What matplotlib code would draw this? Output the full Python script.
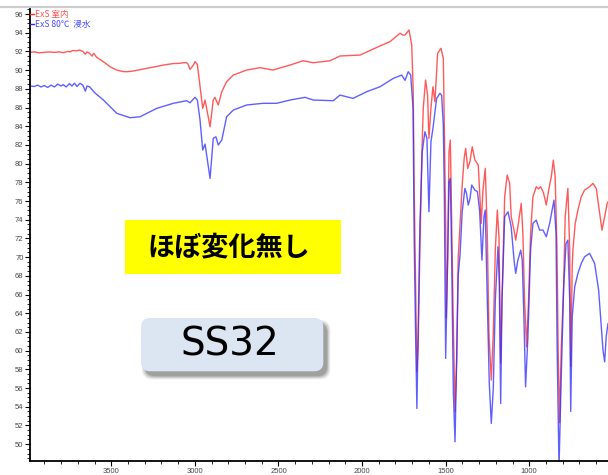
import matplotlib
matplotlib.use('Agg')
from matplotlib import pyplot as plt
from matplotlib.patches import Rectangle, FancyBboxPatch
from matplotlib.lines import Line2D
from matplotlib.transforms import IdentityTransform
from matplotlib.ticker import FixedLocator, MultipleLocator

# IR spectra: wavenumber (cm-1) vs transmittance (%)
red_wn = [3990, 3960, 3930, 3900, 3870, 3840, 3810, 3787, 3760, 3747, 3730, 3710, 3690, 3670,
          3655, 3645, 3630, 3615, 3605, 3587, 3547, 3507, 3467, 3430, 3407, 3370, 3328, 3288,
          3240, 3189, 3130, 3089, 3069, 3049, 3040, 3029, 3010, 2999, 2985, 2969, 2953, 2939,
          2909, 2890, 2880, 2860, 2839, 2810, 2770, 2690, 2610, 2533, 2431, 2353, 2292, 2192,
          2132, 2012, 1893, 1833, 1773, 1755, 1743, 1719, 1703, 1694, 1688, 1679, 1672, 1664,
          1655, 1643, 1634, 1620, 1608, 1600, 1588, 1576, 1564, 1548, 1528, 1514, 1508, 1500,
          1496, 1488, 1480, 1472, 1464, 1454, 1444, 1434, 1425, 1414, 1401, 1389, 1380, 1368,
          1355, 1341, 1325, 1305, 1297, 1287, 1277, 1263, 1251, 1241, 1227, 1215, 1203, 1191,
          1181, 1171, 1163, 1147, 1132, 1117, 1108, 1091, 1081, 1068, 1048, 1038, 1028, 1016,
          1004, 992, 978, 958, 945, 932, 915, 898, 884, 868, 856, 845, 834, 827, 818, 809,
          794, 785, 769, 758, 752, 743, 739, 725, 709, 689, 669, 639, 619, 599, 579, 565,
          549, 534, 525]
red_t = [91.9, 91.95, 91.85, 91.9, 91.95, 91.9, 91.95, 91.86, 92.0, 91.95, 92.1, 92.05, 92.15, 92.0,
         91.7, 91.95, 91.8, 91.5, 91.8, 91.37, 90.9, 90.36, 90.0, 89.85, 89.83, 89.9, 90.05, 90.19,
         90.35, 90.54, 90.7, 90.73, 90.79, 90.8, 90.6, 90.08, 90.5, 90.9, 90.6, 88.22, 85.91, 86.8,
         83.94, 86.8, 87.09, 86.27, 87.69, 88.76, 89.47, 90.01, 90.26, 90.01, 90.54, 91.0, 90.79, 91.0,
         91.51, 91.61, 92.58, 93.04, 93.94, 93.75, 93.75, 94.29, 92.68, 87.69, 76.99, 66.29, 57.74, 60.94,
         69.9, 80.6, 85.91, 88.94, 87.33, 82.7, 85.91, 88.22, 86.62, 91.8, 92.33, 91.26, 84.13, 73.43,
         63.48, 69.9, 81.27, 82.52, 73.43, 62.73, 53.46, 59.17, 69.9, 73.43, 77.71, 80.6, 81.63, 79.49,
         80.2, 81.8, 80.38, 79.85, 77.17, 73.61, 77.17, 79.49, 72.54, 61.88, 56.85, 61.88, 70.75, 75.03,
         72.18, 58.67, 65.41, 76.46, 78.78, 77.89, 74.32, 72.89, 71.82, 73.25, 75.75, 72.54, 65.41, 60.41,
         65.41, 72.54, 76.46, 77.53, 77.3, 77.53, 76.9, 75.57, 77.17, 78.6, 80.38, 78.6, 70.75, 60.06, 52.3, 60.0,
         67.19, 74.32, 77.35, 70.75, 58.3, 69.0, 70.75, 73.61, 75.03, 76.46, 77.17, 77.53, 77.89, 77.35, 74.68, 72.89,
         74.32, 75.75, 76.0]

blue_wn = [3990, 3960, 3940, 3920, 3900, 3880, 3860, 3840, 3820, 3800, 3787, 3770, 3750, 3735,
           3720, 3705, 3687, 3670, 3655, 3645, 3630, 3600, 3547, 3467, 3388, 3328, 3228, 3129,
           3049, 3029, 2999, 2985, 2969, 2953, 2939, 2909, 2890, 2874, 2860, 2839, 2810, 2770,
           2690, 2593, 2511, 2431, 2341, 2292, 2172, 2132, 2054, 1972, 1893, 1813, 1763, 1743,
           1724, 1709, 1695, 1688, 1679, 1672, 1664, 1654, 1640, 1624, 1612, 1600, 1588, 1576,
           1554, 1534, 1524, 1514, 1508, 1500, 1488, 1480, 1472, 1464, 1454, 1444, 1434, 1425,
           1414, 1401, 1385, 1375, 1365, 1355, 1344, 1325, 1310, 1297, 1283, 1271, 1263, 1251,
           1239, 1227, 1215, 1203, 1187, 1179, 1171, 1163, 1147, 1127, 1108, 1091, 1081, 1068,
           1051, 1042, 1032, 1022, 1008, 992, 978, 958, 938, 918, 898, 878, 852, 840, 833, 822,
           809, 794, 780, 769, 758, 752, 743, 728, 709, 689, 669, 639, 609, 585, 569, 559,
           549, 540, 529]
blue_t = [88.3, 88.25, 88.4, 88.2, 88.35, 88.15, 88.4, 88.2, 88.5, 88.3, 88.45, 88.2, 88.55, 88.3,
          88.6, 88.25, 88.59, 88.4, 87.75, 88.3, 88.22, 87.6, 86.8, 85.38, 84.91, 85.01, 85.91, 86.45,
          86.73, 86.51, 87.09, 86.8, 84.66, 81.45, 82.09, 78.42, 82.7, 82.87, 81.99, 82.52, 85.01, 85.73,
          86.27, 86.45, 86.45, 86.8, 87.09, 86.8, 86.73, 87.33, 86.98, 87.69, 88.22, 89.12, 89.47, 88.9,
          89.83, 89.47, 85.91, 71.64, 60.94, 53.82, 62.73, 73.43, 81.27, 83.41, 82.7, 74.85, 82.34, 83.77,
          86.98, 87.52, 87.3, 84.13, 76.99, 59.17, 69.87, 78.06, 78.42, 69.9, 55.6, 50.25, 59.17, 68.08,
          70.22, 74.85, 77.35, 76.8, 75.57, 76.2, 77.71, 77.17, 77.0, 75.0, 69.68, 74.32, 75.03, 65.41,
          56.5, 52.22, 56.0, 65.41, 71.11, 67.19, 54.35, 65.41, 74.32, 74.85, 73.25, 69.68, 68.26, 69.68,
          70.75, 69.68, 63.62, 56.13, 61.48, 70.75, 73.61, 73.96, 72.89, 72.9, 72.18, 73.61, 76.1, 72.54, 60.06, 47.5,
          57.0, 66.83, 71.47, 71.82, 65.41, 53.5, 63.62, 66.83, 68.26, 69.33, 70.04, 70.4, 69.33, 66.48, 62.55, 60.06,
          58.8, 61.48, 62.9]

legend_labels = ['ExS 室内', 'ExS 80℃  浸水']
legend_colors = ['#ff3030', '#2a2aff']
x_ticks = [3500, 3000, 2500, 2000, 1500, 1000]
y_ticks = list(range(50, 97, 2))
note_text = 'ほぼ変化無し'
sample_name = 'SS32'

W, H = 608, 475
fig = plt.figure(figsize=(W / 100, H / 100), dpi=100)
ax = fig.add_axes([30 / W, 14 / H, 578 / W, 454 / H])

ax.plot(red_wn, red_t, color=legend_colors[0], lw=1.0, alpha=0.8)
ax.plot(blue_wn, blue_t, color=legend_colors[1], lw=1.0, alpha=0.75)

ax.set_xlim(3986, 529)
ax.set_ylim(48.2, 96.75)
ax.spines['top'].set_visible(False)
ax.spines['right'].set_visible(False)
for s in ('left', 'bottom'):
    ax.spines[s].set_linewidth(1.3)

ax.xaxis.set_major_locator(FixedLocator(x_ticks))
ax.xaxis.set_minor_locator(MultipleLocator(100))
ax.yaxis.set_major_locator(FixedLocator(y_ticks))
ax.yaxis.set_minor_locator(MultipleLocator(0.5))
ax.tick_params(which='major', length=3.5, width=0.8, labelsize=5.5, labelcolor='#444444', pad=1.2)
ax.tick_params(which='minor', length=2.2, width=0.6)
for lab in ax.get_xticklabels() + ax.get_yticklabels():
    lab.set_family('Liberation Sans')

# thin grey border along the top
pix = IdentityTransform()
fig.add_artist(Line2D([0, W], [H - 7, H - 7], transform=pix, color='#cccccc', lw=1.6))

# legend entries in the upper left corner
for i, (label, color) in enumerate(zip(legend_labels, legend_colors)):
    y = H - 14 - i * 10
    fig.add_artist(Line2D([30, 34], [y, y], transform=pix, color=color, lw=1.0))
    fig.text(35, y, label, transform=pix, color=color, fontsize=6.2, va='center', ha='left',
             family=['Noto Sans CJK JP', 'DejaVu Sans'], alpha=0.85)

# yellow note box
fig.add_artist(Rectangle((125, H - 273.7), 216, 53.4, transform=pix, facecolor='#ffff00',
                         edgecolor='none'))
fig.text(229, H - 247, note_text, transform=pix, fontsize=19.5, fontweight='bold',
         family=['Noto Sans CJK JP', 'DejaVu Sans'], ha='center', va='center', color='black')

# sample name box with soft shadow
for k, a in enumerate([0.10, 0.14, 0.20, 0.28]):
    grow = 3 - k
    fig.add_artist(FancyBboxPatch((141 + 4 - grow, H - 371.3 - 5 - grow), 182.3 + 2 * grow,
                                  53.3 + 2 * grow, boxstyle='round,pad=0,rounding_size=10',
                                  transform=pix, facecolor='#555555', edgecolor='none', alpha=a))
fig.add_artist(FancyBboxPatch((141, H - 371.3), 182.3, 53.3,
                              boxstyle='round,pad=0,rounding_size=9', transform=pix,
                              facecolor='#dce6f2', edgecolor='none'))
fig.text(230, H - 345, sample_name, transform=pix, fontsize=28, ha='center', va='center',
         color='black', family='DejaVu Sans')

fig.savefig('out.png', dpi=100)
